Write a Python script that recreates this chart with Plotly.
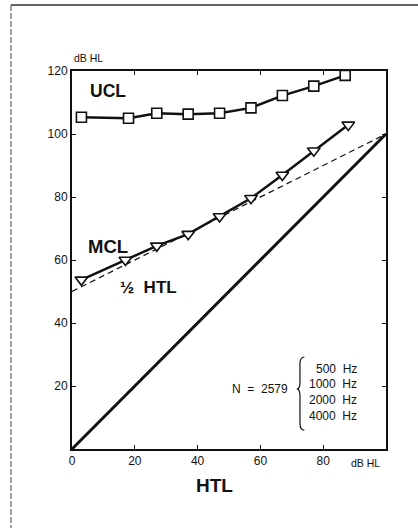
import plotly.graph_objects as go

# Data
htl_ucl = [3, 18, 27, 37, 47, 57, 67, 77, 87]
ucl = [105.3, 105.0, 106.6, 106.3, 106.6, 108.3, 112.2, 115.2, 118.6]
htl_mcl = [3, 17, 27, 37, 47, 57, 67, 77, 88]
mcl = [53.7, 60.0, 64.5, 68.2, 73.8, 79.6, 87.0, 94.7, 102.9]
ref_x = [0, 100]
htl_line = [0, 100]
half_htl_line = [50, 100]
x_ticks = [0, 20, 40, 60, 80]
y_ticks = [20, 40, 60, 80, 100, 120]
freqs = ["500\u00a0\u00a0Hz", "1000\u00a0\u00a0Hz", "2000\u00a0\u00a0Hz", "4000\u00a0\u00a0Hz"]

INK = "#111111"
FONT = "Liberation Sans, Arial, sans-serif"

fig = go.Figure()
fig.add_trace(go.Scatter(x=ref_x, y=half_htl_line, mode="lines",
                         line=dict(color=INK, width=1.2, dash="6px,4px"), showlegend=False))
fig.add_trace(go.Scatter(x=ref_x, y=htl_line, mode="lines",
                         line=dict(color=INK, width=3), showlegend=False))
fig.add_trace(go.Scatter(x=htl_ucl, y=ucl, mode="lines+markers",
                         line=dict(color=INK, width=2.5),
                         marker=dict(symbol="square", size=10, color="white",
                                     line=dict(color=INK, width=1.6)),
                         showlegend=False))
fig.add_trace(go.Scatter(x=htl_mcl, y=mcl, mode="lines+markers",
                         line=dict(color=INK, width=2.5),
                         marker=dict(symbol="triangle-down", size=11, color="white",
                                     line=dict(color=INK, width=1.6)),
                         showlegend=False))

annotations = [
    dict(x=0, y=1.0, xref="paper", yref="paper", text="dB HL", showarrow=False,
         xanchor="left", yanchor="bottom", yshift=5, font=dict(size=10.5)),
    dict(x=5, y=113.5, text="<b>UCL</b>", showarrow=False, xanchor="left", yanchor="middle",
         font=dict(size=17.5)),
    dict(x=4.6, y=64.2, text="<b>MCL</b>", showarrow=False, xanchor="left", yanchor="middle",
         font=dict(size=18.5)),
    dict(x=14.5, y=51.3, text="<b>½\u00a0\u00a0HTL</b>", showarrow=False, xanchor="left",
         yanchor="middle", font=dict(size=17)),
    dict(x=69.5, y=19, text="N\u00a0\u00a0=\u00a0\u00a02579", showarrow=False,
         xanchor="right", yanchor="middle", font=dict(size=12)),
    dict(x=1.0, y=0, xref="paper", yref="paper", text="dB HL", showarrow=False,
         xanchor="right", yanchor="top", yshift=-6, xshift=-4, font=dict(size=10.5)),
    dict(x=0.455, y=0, xref="paper", yref="paper", text="<b>HTL</b>", showarrow=False,
         xanchor="center", yanchor="top", yshift=-24, font=dict(size=19)),
]
freq_y = [25.5, 20.5, 15.6, 10.5]
for f, yy in zip(freqs, freq_y):
    annotations.append(dict(x=91.5, y=yy, text=f, showarrow=False, xanchor="right",
                            yanchor="middle", font=dict(size=12)))

brace = ("M 74.0,29.2 Q 72.6,29.2 72.6,27 L 72.6,21 Q 72.6,19 71.6,19 "
         "Q 72.6,19 72.6,17 L 72.6,8.2 Q 72.6,6 74.0,6")
shapes = [
    dict(type="path", path=brace, xref="x", yref="y", line=dict(color=INK, width=1.2)),
    dict(type="line", xref="paper", yref="paper", x0=-0.1943, x1=1.102, y0=1.1746, y1=1.1746,
         line=dict(color="#333333", width=1.3)),
    dict(type="line", xref="paper", yref="paper", x0=-0.1943, x1=-0.1943, y0=1.1746, y1=-0.21,
         line=dict(color="#444444", width=1, dash="6px,2px")),
]

fig.update_layout(
    width=418, height=528,
    margin=dict(l=72, r=32, t=71, b=79),
    paper_bgcolor="white", plot_bgcolor="white",
    font=dict(family=FONT, color=INK, size=12),
    annotations=annotations, shapes=shapes,
    xaxis=dict(range=[0, 100], tickvals=x_ticks, ticks="inside", ticklen=4, tickwidth=1.2,
               tickcolor=INK, showline=True, linecolor=INK, linewidth=2, mirror="ticks",
               showgrid=False, zeroline=False, tickfont=dict(size=12)),
    yaxis=dict(range=[0, 120], tickvals=y_ticks, ticks="inside", ticklen=4, tickwidth=1.2,
               tickcolor=INK, showline=True, linecolor=INK, linewidth=2, mirror="ticks",
               showgrid=False, zeroline=False, tickfont=dict(size=12)),
)

fig.write_html("out.html", config={"displayModeBar": False},
               post_script="document.body.style.margin='0';document.body.style.overflow='hidden';")
